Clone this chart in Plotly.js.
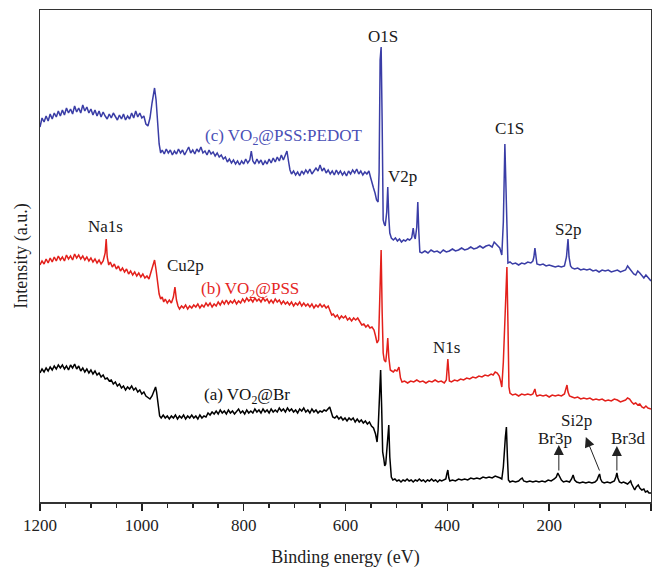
<!DOCTYPE html>
<html>
<head>
<meta charset="utf-8">
<script src="https://cdn.plot.ly/plotly-3.0.1.min.js"></script>
<style>
  html, body { margin: 0; padding: 0; background: #fff; }
  #chart { width: 652px; height: 568px; }
</style>
</head>
<body>
<div id="chart"></div>
<script>
// XPS survey spectra: binding energy (eV) vs. intensity (arbitrary units)

// (c) VO2@PSS:PEDOT
const energyC = [
  1200,1196,1192,1188,1184,1180,1176,1172,1168,1164,
  1160,1156,1152,1148,1144,1140,1136,1132,1128,1124,
  1120,1116,1112,1108,1104,1100,1096,1092,1088,1084,
  1080,1076,1072,1068,1064,1060,1056,1052,1048,1044,
  1040,1036,1032,1028,1024,1020,1016,1012,1008,1004,
  1000,996,992,988,984,980,977,975,972,969,
  966,963,960,956,952,948,944,940,936,932,
  928,924,920,916,912,908,904,900,896,892,
  888,884,880,876,872,868,864,860,856,852,
  848,844,840,836,832,828,824,820,816,812,
  808,804,800,796,792,788,785,782,778,774,
  770,766,762,758,754,750,746,742,738,734,
  730,726,722,718,715,712,709,706,702,698,
  694,690,686,682,678,674,670,666,662,658,
  654,650,646,642,638,634,630,626,622,618,
  614,610,606,602,598,594,590,586,582,578,
  574,570,566,562,558,554,551,548,545,542,
  539,536,534,532,530,528,526,524,522,519,
  517,515,513,510,506,502,498,494,490,486,
  482,478,474,470,467,465,463,460,458,456,
  454,450,444,438,432,426,420,414,408,402,
  396,390,384,378,372,366,360,354,348,342,
  336,330,324,318,312,308,304,300,297,293,
  290,287,285,283,281,277,272,266,260,254,
  248,242,236,232,230,228,226,224,218,212,
  206,200,194,188,182,176,170,166,163,161,
  158,155,150,144,138,132,126,120,114,108,
  102,96,90,84,78,72,66,60,54,50,
  46,42,38,34,30,26,22,18,14,10,
  6,2,0
];
const intensityC = [
  375,384,380,386,381,388,383,389,385,391,
  386,392,387,394,389,393,388,396,390,394,
  389,397,391,395,389,393,387,392,386,391,
  385,390,386,383,388,384,389,385,382,387,
  383,388,382,386,383,389,384,391,385,389,
  384,386,378,376,384,399,410,414,402,380,
  358,349,352,348,353,349,352,347,351,348,
  353,349,352,347,351,355,349,352,348,353,
  350,355,349,351,347,352,348,350,346,349,
  345,347,343,345,340,343,339,342,338,341,
  337,341,338,343,339,342,351,341,338,343,
  339,342,337,341,338,343,339,344,340,345,
  341,347,342,348,351,341,332,328,331,327,
  330,326,331,328,332,329,333,328,331,334,
  331,337,331,334,329,332,328,331,327,332,
  328,331,327,330,326,331,328,332,329,333,
  328,331,327,330,328,331,325,318,314,309,
  302,300,330,442,455,380,282,278,276,290,
  315,285,269,264,262,264,261,263,260,262,
  261,263,262,264,274,266,263,275,300,270,
  250,249,251,249,252,250,251,249,252,250,
  251,253,251,252,254,252,253,255,253,254,
  256,254,256,257,255,260,258,256,254,247,
  280,358,320,255,239,240,238,239,237,239,
  238,240,239,241,245,254,244,238,237,238,
  236,237,236,235,236,235,236,245,263,245,
  236,234,233,234,232,233,232,233,231,232,
  230,232,231,232,230,231,232,230,231,232,
  236,233,230,228,227,231,229,226,224,227,
  225,222,221
];

// (b) VO2@PSS
const energyB = [
  1200,1196,1192,1188,1184,1180,1176,1172,1168,1164,
  1160,1156,1152,1148,1144,1140,1136,1132,1128,1124,
  1120,1116,1112,1108,1104,1100,1096,1092,1088,1084,
  1080,1076,1072,1070,1068,1065,1062,1058,1054,1050,
  1046,1042,1038,1034,1030,1026,1022,1018,1014,1010,
  1006,1002,998,994,990,986,982,978,975,972,
  969,966,963,960,957,954,950,946,942,938,
  935,932,929,926,922,918,914,910,906,902,
  898,894,890,886,882,878,874,870,866,862,
  858,854,850,846,842,838,834,830,826,822,
  818,814,810,806,802,798,794,790,786,782,
  778,774,770,766,762,758,754,750,746,742,
  738,734,730,726,722,718,714,710,706,702,
  698,694,690,686,682,678,674,670,666,662,
  658,654,650,646,642,638,634,630,627,624,
  620,616,612,608,604,600,596,592,588,584,
  580,576,572,568,564,560,556,552,548,544,
  541,538,535,532,530,528,526,524,521,519,
  517,515,512,509,506,503,499,495,492,489,
  484,478,472,466,460,454,448,442,436,430,
  424,418,412,406,402,399,396,392,386,380,
  374,368,362,356,350,344,338,332,326,320,
  314,310,306,302,298,295,293,290,285,283,
  281,279,277,272,266,260,254,248,242,236,
  232,230,228,226,224,218,212,206,200,194,
  188,182,176,170,167,165,163,160,155,150,
  144,138,132,126,120,114,108,102,96,90,
  84,78,72,66,60,54,50,46,42,38,
  34,30,26,22,18,14,10,6,2,0
];
const intensityB = [
  237,241,238,243,239,244,240,245,241,246,
  242,245,241,247,243,246,242,248,244,247,
  243,246,242,245,241,244,240,243,239,242,
  238,241,249,263,245,237,240,235,238,233,
  236,231,234,230,233,228,231,227,230,226,
  229,225,228,224,226,223,230,238,242,232,
  220,208,203,205,200,203,199,202,199,205,
  215,202,196,193,196,194,197,193,196,194,
  197,195,198,194,197,195,199,196,199,195,
  198,196,200,197,201,198,202,198,201,199,
  202,198,201,199,203,200,204,201,203,200,
  204,201,203,200,204,201,203,199,202,199,
  203,200,202,198,201,198,200,197,200,196,
  199,197,200,196,199,196,198,195,198,194,
  197,195,198,195,197,194,196,190,187,188,
  185,187,183,186,184,186,182,184,181,184,
  182,184,180,177,178,175,177,174,175,172,
  166,159,162,205,252,190,149,142,140,150,
  164,145,132,131,130,132,131,135,124,120,
  121,119,121,120,122,120,121,119,121,120,
  122,120,121,119,122,143,121,120,122,121,
  123,122,124,123,125,124,126,125,127,126,
  128,127,130,129,126,120,115,140,215,235,
  180,115,109,107,108,106,108,107,108,107,
  108,111,113,108,106,107,106,107,105,107,
  106,107,106,108,113,117,110,106,105,104,
  105,103,104,103,104,102,103,102,103,101,
  102,101,103,102,100,101,102,104,103,100,
  98,99,97,98,95,94,96,94,93,93
];

// (a) VO2@Br
const energyA = [
  1200,1196,1192,1188,1184,1180,1176,1172,1168,1164,
  1160,1156,1152,1148,1144,1140,1136,1132,1128,1124,
  1120,1116,1112,1108,1104,1100,1096,1092,1088,1084,
  1080,1076,1072,1068,1064,1060,1056,1052,1048,1044,
  1040,1036,1032,1028,1024,1020,1016,1012,1008,1004,
  1000,996,992,988,984,980,976,973,971,968,
  965,962,958,954,950,946,942,938,934,930,
  926,922,918,914,910,906,902,898,894,890,
  886,882,878,874,870,866,862,858,854,850,
  846,842,838,834,830,826,822,818,814,810,
  806,802,798,794,790,786,782,778,774,770,
  766,762,758,754,750,746,742,738,734,730,
  726,722,718,714,710,706,702,698,694,690,
  686,682,678,674,670,666,662,658,654,650,
  646,642,638,634,631,628,625,621,617,613,
  609,605,601,597,593,589,585,581,577,573,
  569,565,561,557,553,549,545,541,538,536,
  533,531,529,527,525,523,521,519,517,515,
  513,510,507,503,499,495,491,487,483,479,
  475,471,467,463,459,455,451,447,443,439,
  435,431,427,423,419,415,411,407,403,401,
  399,397,395,390,384,378,372,366,360,354,
  348,342,336,330,324,318,312,306,300,296,
  293,290,286,284,282,280,277,272,266,260,
  256,253,250,244,238,232,226,220,214,208,
  202,196,190,186,183,180,176,172,166,160,
  156,153,150,146,140,134,128,122,116,110,
  106,103,101,99,96,92,86,80,76,72,
  69,67,65,62,58,54,50,46,42,40,
  38,35,32,29,25,22,18,14,11,7,
  4,0
];
const intensityA = [
  129,133,130,134,131,135,132,136,133,137,
  134,137,133,136,132,137,134,138,133,136,
  131,134,130,133,129,132,128,131,127,129,
  125,127,123,124,121,122,118,120,116,118,
  114,116,112,115,113,116,112,114,110,112,
  108,110,106,104,103,106,111,115,110,95,
  86,84,87,84,86,83,86,84,87,83,
  86,84,87,83,86,84,87,84,86,83,
  87,84,86,85,89,87,90,88,91,88,
  92,89,91,88,92,89,91,88,90,93,
  89,91,88,92,89,91,89,93,90,92,
  89,93,90,92,89,93,90,92,90,94,
  91,93,90,94,91,93,90,92,89,93,
  91,94,90,92,89,93,90,92,89,91,
  90,92,91,93,95,90,85,84,86,83,
  85,82,84,81,84,82,84,80,83,80,
  82,79,81,78,80,76,74,68,60,72,
  115,132,95,50,44,36,38,55,68,77,
  45,25,22,23,21,22,20,22,21,23,
  21,22,20,22,21,23,21,22,20,22,
  21,23,21,22,20,22,21,22,23,28,
  32,24,21,22,21,23,22,23,22,24,
  23,24,23,25,24,25,24,26,25,24,
  23,35,65,75,45,22,20,21,20,21,
  23,24,21,20,21,20,21,20,21,20,
  22,21,23,25,29,26,22,20,21,20,
  23,27,22,20,19,20,19,20,19,20,
  22,26,28,23,20,19,20,19,20,21,
  25,29,24,20,19,20,19,18,20,21,
  18,14,12,15,17,14,12,13,10,11,
  9,9
];

// Peak labels: text, binding energy, intensity
const peakLabels = ['O1S', 'V2p', 'C1S', 'S2p', 'Na1s', 'Cu2p', 'N1s', 'Br3p', 'Si2p', 'Br3d'];
const peakLabelX = [526, 489, 277, 163, 1072, 914, 401, 189, 147, 45];
const peakLabelY = [466, 326, 374, 273, 276, 237, 155, 64, 82, 64];

// Sample names
const sampleNames = ['(c) VO<sub>2</sub>@PSS:PEDOT', '(b) VO<sub>2</sub>@PSS', '(a) VO<sub>2</sub>@Br'];
const sampleNameX = [721, 788, 793];
const sampleNameY = [365, 212, 106];
const sampleColors = ['#3a3da6', '#e3201b', '#000000'];
const sampleTextColors = ['#4a4fb6', '#e5261f', '#111111'];

// Arrows marking the bromine / silicon peaks: head (x, y) and tail (x, y)
const arrowHeadX = [181, 128, 67];
const arrowHeadY = [57, 65, 56];
const arrowTailX = [181, 100, 67];
const arrowTailY = [30, 30, 30];

const serif = 'Liberation Serif, "Times New Roman", Times, serif';

const traces = [
  { x: energyC, y: intensityC, color: sampleColors[0] },
  { x: energyB, y: intensityB, color: sampleColors[1] },
  { x: energyA, y: intensityA, color: sampleColors[2] }
].map(s => ({
  type: 'scatter', mode: 'lines', x: s.x, y: s.y,
  line: { color: s.color, width: 1.5 },
  hoverinfo: 'skip'
}));

const annotations = [];
peakLabels.forEach((t, i) => annotations.push({
  x: peakLabelX[i], y: peakLabelY[i], xref: 'x', yref: 'y',
  text: t, showarrow: false, xanchor: 'center', yanchor: 'middle',
  font: { family: serif, size: 17, color: '#1a1a1a' }
}));
sampleNames.forEach((t, i) => annotations.push({
  x: sampleNameX[i], y: sampleNameY[i], xref: 'x', yref: 'y',
  text: t, showarrow: false, xanchor: 'center', yanchor: 'middle',
  font: { family: serif, size: 17, color: sampleTextColors[i] }
}));
arrowHeadX.forEach((hx, i) => annotations.push({
  x: hx, y: arrowHeadY[i], xref: 'x', yref: 'y',
  ax: arrowTailX[i], ay: arrowTailY[i], axref: 'x', ayref: 'y',
  text: '', showarrow: true, arrowhead: 2, arrowsize: 2, arrowwidth: 1,
  arrowcolor: '#222'
}));

const layout = {
  width: 652, height: 568,
  margin: { l: 40, r: 1, t: 10, b: 66 },
  paper_bgcolor: '#ffffff', plot_bgcolor: '#ffffff',
  showlegend: false,
  font: { family: serif, size: 17, color: '#222' },
  xaxis: {
    range: [1200, 0], tick0: 0, dtick: 200,
    ticks: 'outside', ticklen: 7, tickwidth: 1.5, tickcolor: '#222',
    minor: { dtick: 50, ticks: 'outside', ticklen: 4, tickwidth: 1.5, tickcolor: '#222', showgrid: false },
    showline: true, linecolor: '#333', linewidth: 1.5, mirror: true,
    showgrid: false, zeroline: false,
    tickfont: { family: serif, size: 17, color: '#222' },
    title: { text: 'Binding energy (eV)', font: { family: serif, size: 18, color: '#222' }, standoff: 18 }
  },
  yaxis: {
    range: [0, 492],
    showticklabels: false, ticks: '',
    showline: true, linecolor: '#333', linewidth: 1.5, mirror: true,
    showgrid: false, zeroline: false,
    title: { text: 'Intensity (a.u.)', font: { family: serif, size: 18, color: '#222' }, standoff: 6 }
  },
  annotations: annotations
};

Plotly.newPlot('chart', traces, layout, { staticPlot: true, displayModeBar: false });
</script>
</body>
</html>
